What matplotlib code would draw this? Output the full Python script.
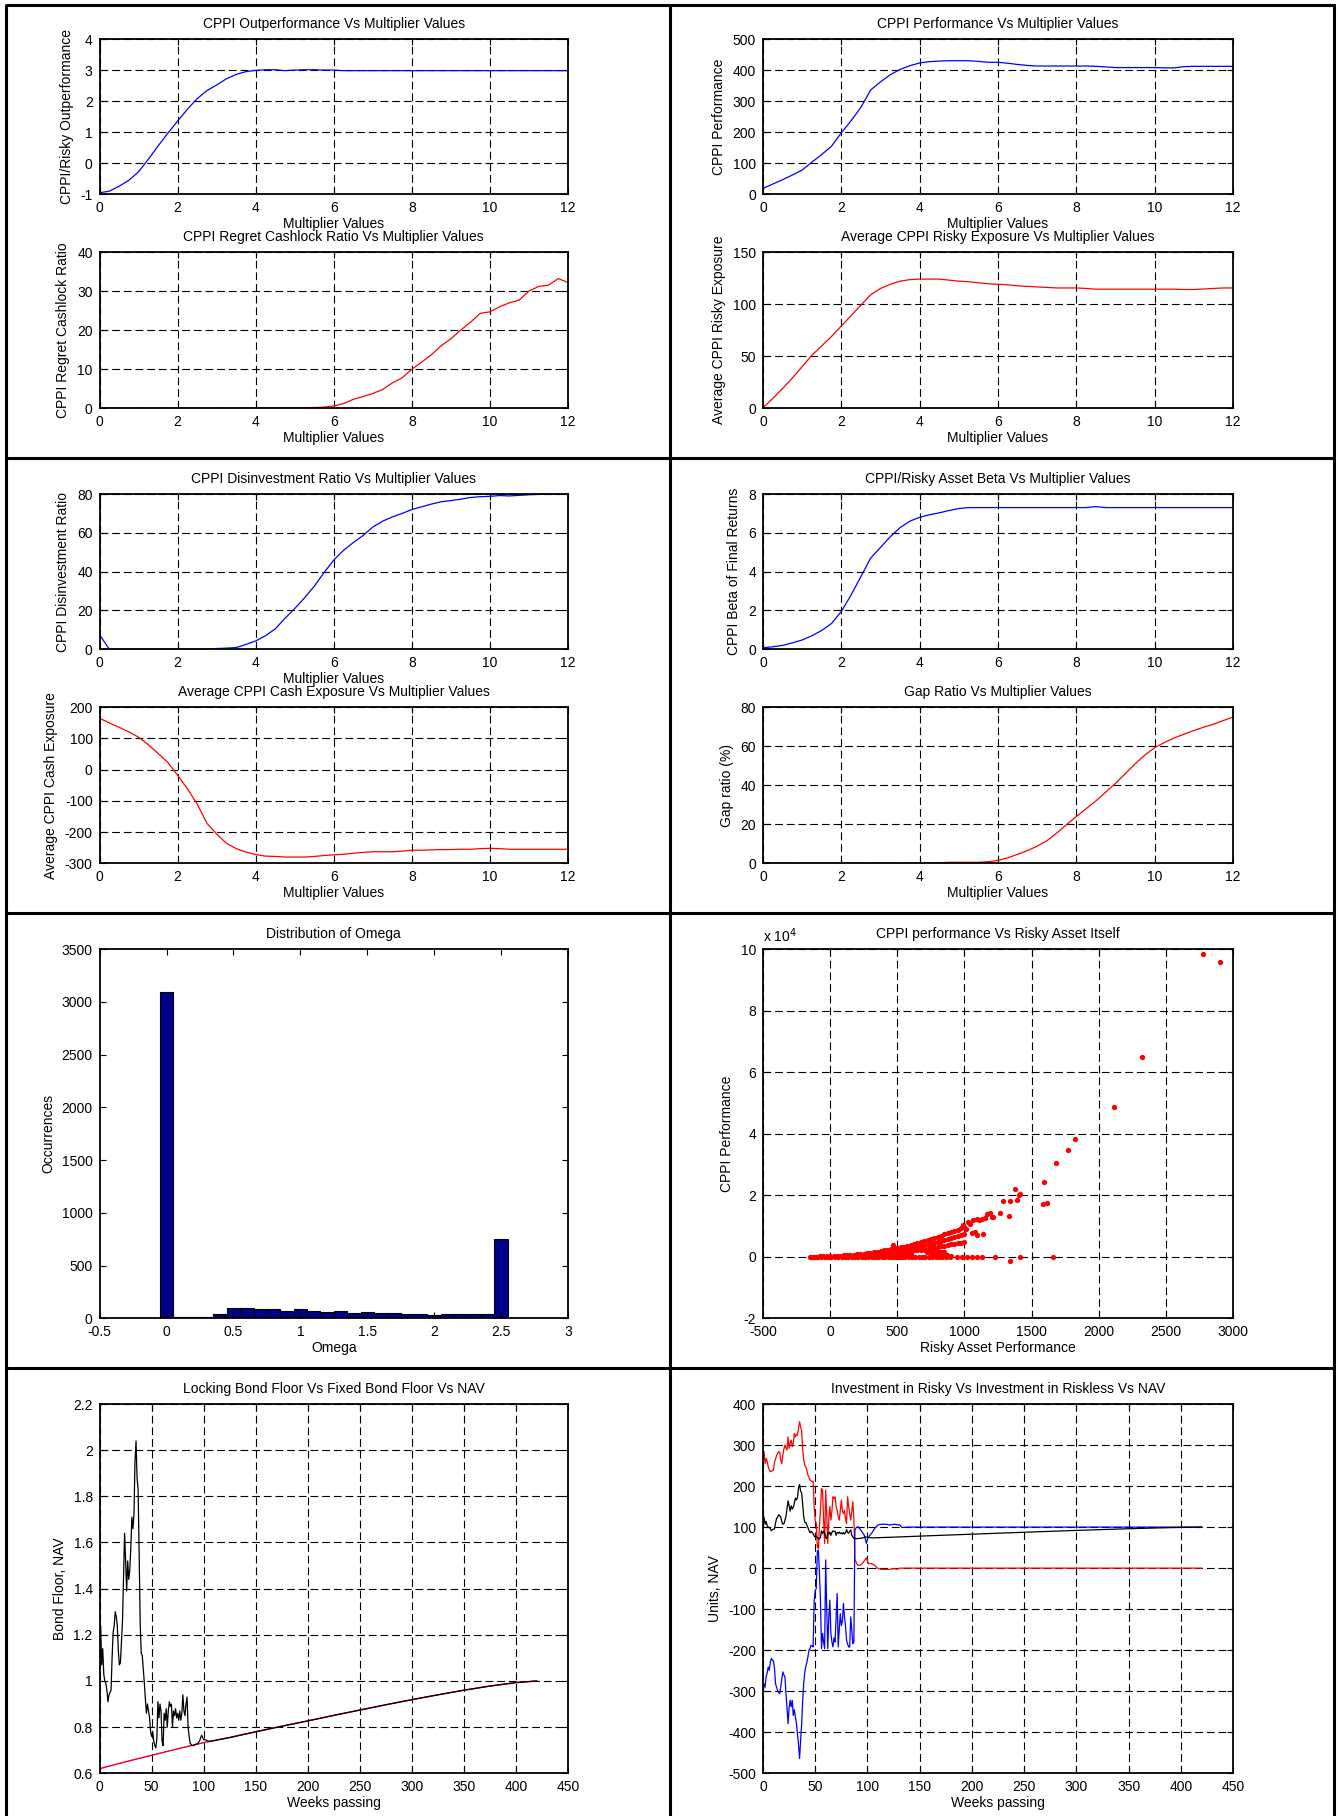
import matplotlib
matplotlib.use("Agg")
import matplotlib.pyplot as plt
from matplotlib.lines import Line2D
from matplotlib.ticker import FuncFormatter

plt.rcParams["font.family"] = ["Liberation Sans", "DejaVu Sans"]
plt.rcParams["axes.unicode_minus"] = False

# ---- multiplier sweep results -------------------------------------------
multiplier = [0, 0.25, 0.5, 0.75, 1, 1.25, 1.5, 1.75, 2, 2.25, 2.5, 2.75, 3,
              3.25, 3.5, 3.75, 4, 4.25, 4.5, 4.75, 5, 5.25, 5.5, 5.75, 6,
              6.25, 6.5, 6.75, 7, 7.25, 7.5, 7.75, 8, 8.25, 8.5, 8.75, 9,
              9.25, 9.5, 9.75, 10, 10.25, 10.5, 10.75, 11, 11.25, 11.5,
              11.75, 12]

outperformance = [-0.95, -0.9, -0.74, -0.55, -0.27, 0.13, 0.56, 0.97, 1.36,
                  1.74, 2.08, 2.34, 2.52, 2.72, 2.86, 2.95, 2.99, 3.01, 3.01,
                  2.98, 3.0, 3.01, 3.01, 3.0, 3.0, 2.98, 2.98, 2.98, 2.98,
                  2.98, 2.98, 2.98, 2.98, 2.98, 2.98, 2.98, 2.98, 2.98, 2.98,
                  2.98, 2.98, 2.98, 2.98, 2.98, 2.98, 2.98, 2.98, 2.98, 2.98]

regret_cashlock = [0, 0, 0, 0, 0, 0, 0, 0, 0, 0, 0, 0, 0, 0, 0, 0, 0, 0,
                   0.05, 0.15, 0.15, 0.15, 0.2, 0.3, 0.6, 1.2, 2.3, 3.0, 3.8,
                   4.8, 6.5, 7.8, 10.0, 11.8, 13.7, 16.0, 17.8, 20.0, 22.0,
                   24.3, 24.7, 26.0, 27.0, 27.7, 30.0, 31.2, 31.5, 33.2, 32.2]

performance = [19, 33, 47, 62, 78, 104, 128, 155, 198, 237, 280, 336, 362,
               385, 402, 414, 423, 427, 429, 430, 430, 430, 428, 425, 425,
               422, 418, 415, 413, 413, 413, 413, 413, 413, 412, 410, 408,
               408, 408, 408, 408, 407, 407, 411, 412, 412, 412, 412, 412]

risky_exposure = [0.5, 9.5, 19, 29, 40, 51, 60, 69, 79, 89, 99, 109, 115,
                  119, 122, 123.5, 124, 124, 124, 123, 122, 121.5, 120.5,
                  119.5, 119, 118.5, 117.5, 117, 116.5, 116, 115.5, 115.5,
                  115.5, 115, 114.3, 114.3, 114.3, 114.3, 114.3, 114.3, 114.3,
                  114.3, 114.3, 114, 114, 114.5, 115, 115.5, 115.5]

disinvestment = [7.5, 0, 0, 0, 0, 0, 0, 0, 0, 0, 0, 0, 0.4, 0.6, 0.9, 2.5,
                 4.3, 7, 10.5, 16, 21, 26.5, 32.5, 39.5, 46, 51, 55, 58.6, 63,
                 66, 68.2, 70, 72, 73.4, 74.8, 76, 76.6, 77.3, 78.2, 78.6,
                 78.8, 79.2, 79.0, 79.3, 79.6, 79.8, 79.8, 79.8, 79.8]

cash_exposure = [165, 150, 136, 121, 104, 80, 52, 23, -18, -61, -110, -172,
                 -206, -236, -253, -264, -272, -277, -278, -280, -280, -280,
                 -278, -275, -273, -271, -268, -265, -263, -263, -263, -261,
                 -258, -258, -257, -256, -256, -255, -255, -253, -252, -253,
                 -255, -255, -255, -255, -255, -255, -255]

beta = [0.08, 0.13, 0.2, 0.33, 0.48, 0.7, 0.97, 1.33, 1.95, 2.8, 3.75, 4.7,
        5.25, 5.8, 6.27, 6.6, 6.8, 6.93, 7.03, 7.15, 7.25, 7.3, 7.3, 7.3,
        7.3, 7.3, 7.3, 7.3, 7.3, 7.3, 7.3, 7.3, 7.3, 7.3, 7.35, 7.3, 7.3,
        7.3, 7.3, 7.3, 7.3, 7.3, 7.3, 7.3, 7.3, 7.3, 7.3, 7.3, 7.3]

gap_ratio = [0, 0, 0, 0, 0, 0, 0, 0, 0, 0, 0, 0, 0, 0, 0, 0, 0, 0, 0.3, 0.5,
             0.5, 0.5, 0.5, 0.8, 1.5, 2.8, 4.6, 6.5, 8.8, 11.6, 15.5, 19.8,
             24, 28, 32, 36.5, 41, 46, 51, 55.5, 59.3, 62, 64.3, 66.2, 68.1,
             69.8, 71.3, 73.2, 75]

# ---- omega histogram ----------------------------------------------------
omega_centers = [0.0, 0.1, 0.2, 0.3, 0.4, 0.5, 0.6, 0.7, 0.8, 0.9, 1.0, 1.1,
                 1.2, 1.3, 1.4, 1.5, 1.6, 1.7, 1.8, 1.9, 2.0, 2.1, 2.2, 2.3,
                 2.4, 2.5]
omega_counts = [3095, 12, 10, 12, 41, 95, 95, 85, 85, 73, 85, 73, 63, 73, 54,
                63, 54, 54, 44, 44, 35, 44, 44, 44, 44, 748]

# ---- CPPI vs risky asset scatter ----------------------------------------
# upper edge of the dense cloud
band_x = [-150, -125, -100, -75, -50, -25, 0, 25, 50, 75, 100, 125, 150, 175,
          200, 225, 250, 275, 300, 325, 350, 375, 400, 425, 450, 475, 500,
          525, 550, 575, 600, 625, 650, 675, 700, 725, 750, 775, 800, 825,
          850, 875, 900, 925, 950, 975, 1000]
band_y = [0, 20, 50, 100, 150, 200, 250, 300, 350, 400, 450, 520, 600, 700,
          800, 920, 1050, 1200, 1350, 1520, 1700, 1870, 2050, 2250, 2450,
          2650, 2850, 3070, 3320, 3580, 3850, 4120, 4400, 4700, 5000, 5350,
          5700, 6050, 6450, 6850, 7250, 7650, 8050, 8450, 8850, 9250, 9650]

# inside of the cloud, in layers below the edge
layer_x = [300, 325, 350, 375, 400, 425, 450, 475, 500, 525, 550, 575, 600,
           625, 650, 675, 700, 725, 750, 775, 800, 825, 850, 875, 900, 925,
           950, 975, 1000]
layer_hi = [1010, 1140, 1280, 1400, 1540, 1690, 1840, 1990, 2140, 2300, 2490,
            2690, 2890, 3090, 3300, 3530, 3750, 4010, 4280, 4540, 4840, 5140,
            5440, 5740, 6040, 6340, 6640, 6940, 7240]
layer_mid = [680, 760, 850, 940, 1030, 1130, 1230, 1330, 1430, 1540, 1660,
             1790, 1930, 2060, 2200, 2350, 2500, 2680, 2850, 3030, 3230, 3430,
             3630, 3830, 4030, 4230, 4430, 4630, 4830]
layer_lo_x = [300, 325, 350, 375, 400, 425, 450, 475, 500, 525, 550, 575, 600,
              750, 775, 800, 825, 850]
layer_lo = [340, 380, 430, 470, 510, 560, 610, 660, 710, 770, 830, 900, 960,
            1250, 1340, 1430, 1510, 1610]

zero_x = [-140, -115, -90, -65, -40, -15, 10, 35, 60, 85, 110, 135, 160, 185,
          210, 235, 260, 285, 310, 335, 360, 385, 410, 435, 460, 485, 510,
          535, 560, 585, 610, 635, 660, 685, 710, 735, 760, 785, 810, 835,
          860, 892, 942, 979, 1016, 1054, 1091, 1128, 1228, 1414, 1660]
zero_y = [0, 0, 0, 0, 0, 0, 0, 0, 0, 0, 0, 0, 0, 0, 0, 0, 0, 0, 0, 0, 0, 0,
          0, 0, 0, 0, 0, 0, 0, 0, 0, 0, 0, 0, 0, 0, 0, 0, 0, 0, 0, 0, 0, 0,
          0, 0, 0, 0, 0, 0, 0]

stray_x = [465, 706, 719, 752, 781, 806, 843, 716, 844, 870, 900]
stray_y = [3700, 2100, 1600, 2600, 2200, 1250, 500, 2200, 1100, 700, 400]

outlier_x = [992, 1010, 1029, 1040, 1054, 1066, 1079, 1091, 1092, 1110, 1128,
             1141, 1150, 1166, 1191, 1203, 1216, 1266, 1285, 1340, 1335, 1380,
             1392, 1404, 1417, 1340, 1593, 1583, 1618, 1685, 1774, 1822, 2111,
             2322, 2777, 2901]
outlier_y = [10200, 9000, 11300, 10500, 7800, 11900, 8000, 12400, 7100, 11800,
             12200, 7500, 12600, 14000, 14200, 13000, 12900, 14200, 18200,
             18200, 13300, 22100, 18300, 20000, 20300, -1300, 24200, 17300,
             17500, 30600, 34700, 38200, 48800, 64900, 98300, 95800]

# ---- weekly path ----------------------------------------------------------
weeks = [0, 1, 2, 3, 4, 5, 6, 7, 8, 9, 10, 11, 12, 13, 14, 15, 16, 17, 18,
         19, 20, 21, 22, 23, 24, 25, 26, 27, 28, 29, 30, 31, 32, 33, 34, 35,
         36, 37, 38, 39, 40, 41, 42, 43, 44, 45, 46, 47, 48, 49, 50, 51, 52,
         53, 54, 55, 56, 57, 58, 59, 60, 61, 62, 63, 64, 65, 66, 67, 68, 69,
         70, 71, 72, 73, 74, 75, 76, 77, 78, 79, 80, 81, 82, 83, 84, 85, 86,
         87, 88, 89, 90, 92, 94, 96, 98, 100, 102, 104, 106, 108, 110, 125,
         150, 175, 200, 225, 250, 275, 300, 325, 350, 375, 400, 420]

nav = [1.25, 1.24, 1.07, 1.14, 1.03, 1.0, 0.99, 0.96, 0.91, 0.94, 0.95, 0.96,
       1.1, 1.21, 1.24, 1.3, 1.28, 1.24, 1.13, 1.07, 1.08, 1.17, 1.26, 1.45,
       1.64, 1.52, 1.39, 1.52, 1.44, 1.48, 1.58, 1.71, 1.66, 1.72, 1.95, 2.04,
       1.88, 1.83, 1.55, 1.25, 1.12, 1.11, 1.05, 0.99, 0.92, 0.86, 0.9, 0.87,
       0.84, 0.78, 0.76, 0.78, 0.74, 0.72, 0.71, 0.75, 0.91, 0.84, 0.9, 0.87,
       0.74, 0.72, 0.86, 0.83, 0.88, 0.8, 0.87, 0.91, 0.89, 0.9, 0.8, 0.87,
       0.85, 0.88, 0.84, 0.86, 0.83, 0.87, 0.83, 0.86, 0.94, 0.87, 0.85, 0.9,
       0.93, 0.8, 0.76, 0.73, 0.725, 0.72, 0.72, 0.725, 0.728, 0.74, 0.765,
       0.745, 0.745, 0.74, 0.738, 0.74, 0.742, 0.755, 0.78, 0.804, 0.827,
       0.851, 0.874, 0.897, 0.919, 0.94, 0.96, 0.978, 0.993, 1.0]

floor_weeks = [0, 25, 50, 75, 100, 125, 150, 175, 200, 225, 250, 275, 300,
               325, 350, 375, 400, 420]
bond_floor = [0.62, 0.65, 0.678, 0.706, 0.733, 0.755, 0.78, 0.804, 0.827,
              0.851, 0.874, 0.897, 0.919, 0.94, 0.96, 0.978, 0.993, 1.0]

alloc_weeks = [0, 1, 2, 3, 4, 5, 6, 7, 8, 9, 10, 11, 12, 13, 14, 15, 16, 17,
               18, 19, 20, 21, 22, 23, 24, 25, 26, 27, 28, 29, 30, 31, 32, 33,
               34, 35, 36, 37, 38, 39, 40, 41, 42, 43, 44, 45, 46, 47, 48, 49,
               50, 51, 52, 53, 54, 55, 56, 57, 58, 59, 60, 61, 62, 63, 64, 65,
               66, 67, 68, 69, 70, 71, 72, 73, 74, 75, 76, 77, 78, 79, 80, 81,
               82, 83, 84, 85, 86, 87, 88, 89, 90, 91, 93, 95, 97, 99, 100,
               101, 104, 107, 110, 113, 118, 121, 126, 128, 131, 133, 139, 420]

risky_units = [280, 284, 255, 267, 260, 247, 240, 235, 236, 238, 239, 259,
               265, 275, 280, 284, 282, 262, 255, 276, 290, 300, 293, 288, 320,
               292, 305, 312, 296, 305, 328, 320, 326, 324, 340, 357, 345, 335,
               288, 265, 250, 247, 238, 227, 222, 215, 212, 211, 212, 150, 117,
               109, 52, 48, 100, 141, 194, 190, 120, 60, 190, 130, 60, 120,
               150, 117, 140, 174, 170, 174, 150, 141, 125, 117, 140, 166, 140,
               133, 141, 120, 109, 174, 150, 133, 117, 140, 162, 120, 20, 16,
               10, 7, 7, 11, 18, 25, 18, 11, 11, 7, -1, -3, -3, -3, -1, -3, 0,
               0, 0, 0]

riskless_units = [-306, -282, -290, -265, -255, -241, -249, -230, -220, -224,
                  -226, -245, -282, -290, -298, -303, -306, -289, -270, -253,
                  -260, -265, -306, -340, -379, -340, -322, -338, -322, -359,
                  -345, -362, -379, -403, -430, -464, -420, -380, -322, -280,
                  -253, -240, -230, -216, -200, -196, -188, -190, -192, -80,
                  -54, -50, 40, 44, -10, -78, -196, -159, -180, -196, 20, -100,
                  -196, -120, -78, -159, -180, -192, -170, -180, -120, -62,
                  -192, -150, -111, -140, -130, -86, -120, -140, -176, -185,
                  -192, -192, -119, -150, -184, -180, 92, 98, 100, 101, 95, 88,
                  80, 60, 70, 76, 85, 97, 105, 107, 107, 105, 107, 106, 105,
                  99, 100, 100]

W, H = 1338, 1816
fig = plt.figure(figsize=(W / 100, H / 100), dpi=100)


def panel(x0, x1, y0, y1):
    # pixel box (from the top-left corner) -> figure axes
    return fig.add_axes([x0 / W, 1 - y1 / H, (x1 - x0) / W, (y1 - y0) / H])


def style(ax, title, xlabel, ylabel, ylabel_px, grid=True):
    ax.tick_params(direction="in", top=True, right=True, length=4, width=0.8,
                   labelsize=10, pad=5)
    for s in ax.spines.values():
        s.set_linewidth(1.3)
    if grid:
        ax.grid(True, color="k", linestyle=(0, (7, 3.5)), linewidth=0.8)
    ax.set_title(title, fontsize=10, pad=8)
    if xlabel:
        ax.set_xlabel(xlabel, fontsize=10, labelpad=1)
    ax.set_ylabel(ylabel, fontsize=10, va="center")
    box = ax.get_position()
    ax_left = box.x0 * W
    ax.yaxis.set_label_coords((ylabel_px - ax_left) / (box.width * W), 0.5)
    fmt = FuncFormatter(lambda v, p: f"{v:g}")
    ax.xaxis.set_major_formatter(fmt)
    ax.yaxis.set_major_formatter(fmt)


def multiplier_panel(ax, values, color, yticks, title, xlabel, ylabel, ylabel_px):
    ax.plot(multiplier, values, color=color, linewidth=0.9)
    ax.set_xlim(0, 12)
    ax.set_xticks([0, 2, 4, 6, 8, 10, 12])
    ax.set_ylim(yticks[0], yticks[-1])
    ax.set_yticks(yticks)
    style(ax, title, xlabel, ylabel, ylabel_px)


LX0, LX1 = 99.6, 568
RX0, RX1 = 763, 1233

# row 1
ax = panel(LX0, LX1, 39, 194.3)
multiplier_panel(ax, outperformance, "b", [-1, 0, 1, 2, 3, 4],
                 "CPPI Outperformance Vs Multiplier Values", "Multiplier Values",
                 "CPPI/Risky Outperformance", 67)
ax = panel(LX0, LX1, 252, 408.3)
multiplier_panel(ax, regret_cashlock, "r", [0, 10, 20, 30, 40],
                 "CPPI Regret Cashlock Ratio Vs Multiplier Values", "Multiplier Values",
                 "CPPI Regret Cashlock Ratio", 63)
ax = panel(RX0, RX1, 39, 194.3)
multiplier_panel(ax, performance, "b", [0, 100, 200, 300, 400, 500],
                 "CPPI Performance Vs Multiplier Values", "Multiplier Values",
                 "CPPI Performance", 719)
ax = panel(RX0, RX1, 252, 408.3)
multiplier_panel(ax, risky_exposure, "r", [0, 50, 100, 150],
                 "Average CPPI Risky Exposure Vs Multiplier Values", "Multiplier Values",
                 "Average CPPI Risky Exposure", 719)

# row 2
ax = panel(LX0, LX1, 494, 649.3)
multiplier_panel(ax, disinvestment, "b", [0, 20, 40, 60, 80],
                 "CPPI Disinvestment Ratio Vs Multiplier Values", "Multiplier Values",
                 "CPPI Disinvestment Ratio", 63)
ax = panel(LX0, LX1, 707.3, 863.3)
multiplier_panel(ax, cash_exposure, "r", [-300, -200, -100, 0, 100, 200],
                 "Average CPPI Cash Exposure Vs Multiplier Values", "Multiplier Values",
                 "Average CPPI Cash Exposure", 51)
ax = panel(RX0, RX1, 494, 649.3)
multiplier_panel(ax, beta, "b", [0, 2, 4, 6, 8],
                 "CPPI/Risky Asset Beta Vs Multiplier Values", None,
                 "CPPI Beta of Final Returns", 734)
ax = panel(RX0, RX1, 707.3, 863.3)
multiplier_panel(ax, gap_ratio, "r", [0, 20, 40, 60, 80],
                 "Gap Ratio Vs Multiplier Values", "Multiplier Values",
                 "Gap ratio (%)", 727)

# row 3: omega histogram
ax = panel(LX0, LX1, 949, 1318.3)
ax.bar(omega_centers, omega_counts, width=0.1, color="#00008a",
       edgecolor="k", linewidth=0.8)
ax.set_xlim(-0.5, 3)
ax.set_xticks([-0.5, 0, 0.5, 1, 1.5, 2, 2.5, 3])
ax.set_ylim(0, 3500)
ax.set_yticks(range(0, 3501, 500))
style(ax, "Distribution of Omega", "Omega", "Occurrences", 48.7, grid=False)

# row 3: CPPI vs risky asset
ax = panel(RX0, RX1, 949, 1318.3)
for xs, ys in ((zero_x, zero_y), (band_x, band_y), (layer_x, layer_hi),
               (layer_x, layer_mid), (layer_lo_x, layer_lo), (stray_x, stray_y),
               (outlier_x, outlier_y)):
    ax.plot(xs, ys, "o", color="r", markersize=3.8, markeredgewidth=0)
ax.set_xlim(-500, 3000)
ax.set_xticks(range(-500, 3001, 500))
ax.set_ylim(-20000, 100000)
ax.set_yticks(range(-20000, 100001, 20000))
style(ax, "CPPI performance Vs Risky Asset Itself", "Risky Asset Performance",
      "CPPI Performance", 727)
ax.yaxis.set_major_formatter(FuncFormatter(lambda v, p: f"{v / 1e4:g}"))
ax.text(0.0, 1.012, r"x 10$^{4}$", transform=ax.transAxes, fontsize=10,
        ha="left", va="bottom")

# row 4: floors vs NAV
ax = panel(LX0, LX1, 1404, 1773.3)
ax.plot(floor_weeks, bond_floor, color="r", linewidth=1.0)
ax.plot(floor_weeks, bond_floor, color="m", linewidth=0.6, alpha=0.5)
ax.plot(weeks, nav, color="k", linewidth=0.9)
ax.set_xlim(0, 450)
ax.set_xticks(range(0, 451, 50))
ax.set_ylim(0.6, 2.2)
ax.set_yticks([0.6, 0.8, 1.0, 1.2, 1.4, 1.6, 1.8, 2.0, 2.2])
style(ax, "Locking Bond Floor Vs Fixed Bond Floor Vs NAV", "Weeks passing",
      "Bond Floor, NAV", 60)

# row 4: risky / riskless units vs NAV
ax = panel(RX0, RX1, 1404, 1773.3)
ax.plot(alloc_weeks, risky_units, color="r", linewidth=0.9)
ax.plot(alloc_weeks, riskless_units, color="b", linewidth=0.9)
ax.plot(weeks, [v * 100 for v in nav], color="k", linewidth=0.9)
ax.set_xlim(0, 450)
ax.set_xticks(range(0, 451, 50))
ax.set_ylim(-500, 400)
ax.set_yticks(range(-500, 401, 100))
style(ax, "Investment in Risky Vs Investment in Riskless Vs NAV", "Weeks passing",
      "Units, NAV", 715)

# table frame around the panels
def frame_line(x0, y0, x1, y1):
    fig.add_artist(Line2D([x0 / W, x1 / W], [1 - y0 / H, 1 - y1 / H],
                          transform=fig.transFigure, color="k", linewidth=2.2,
                          solid_capstyle="butt"))


for y in (4.5, 458, 913, 1368):
    frame_line(5.5, y, 1335, y)
for x in (6.5, 670, 1334):
    frame_line(x, 3.5, x, H)

fig.savefig("out.png", dpi=100)
